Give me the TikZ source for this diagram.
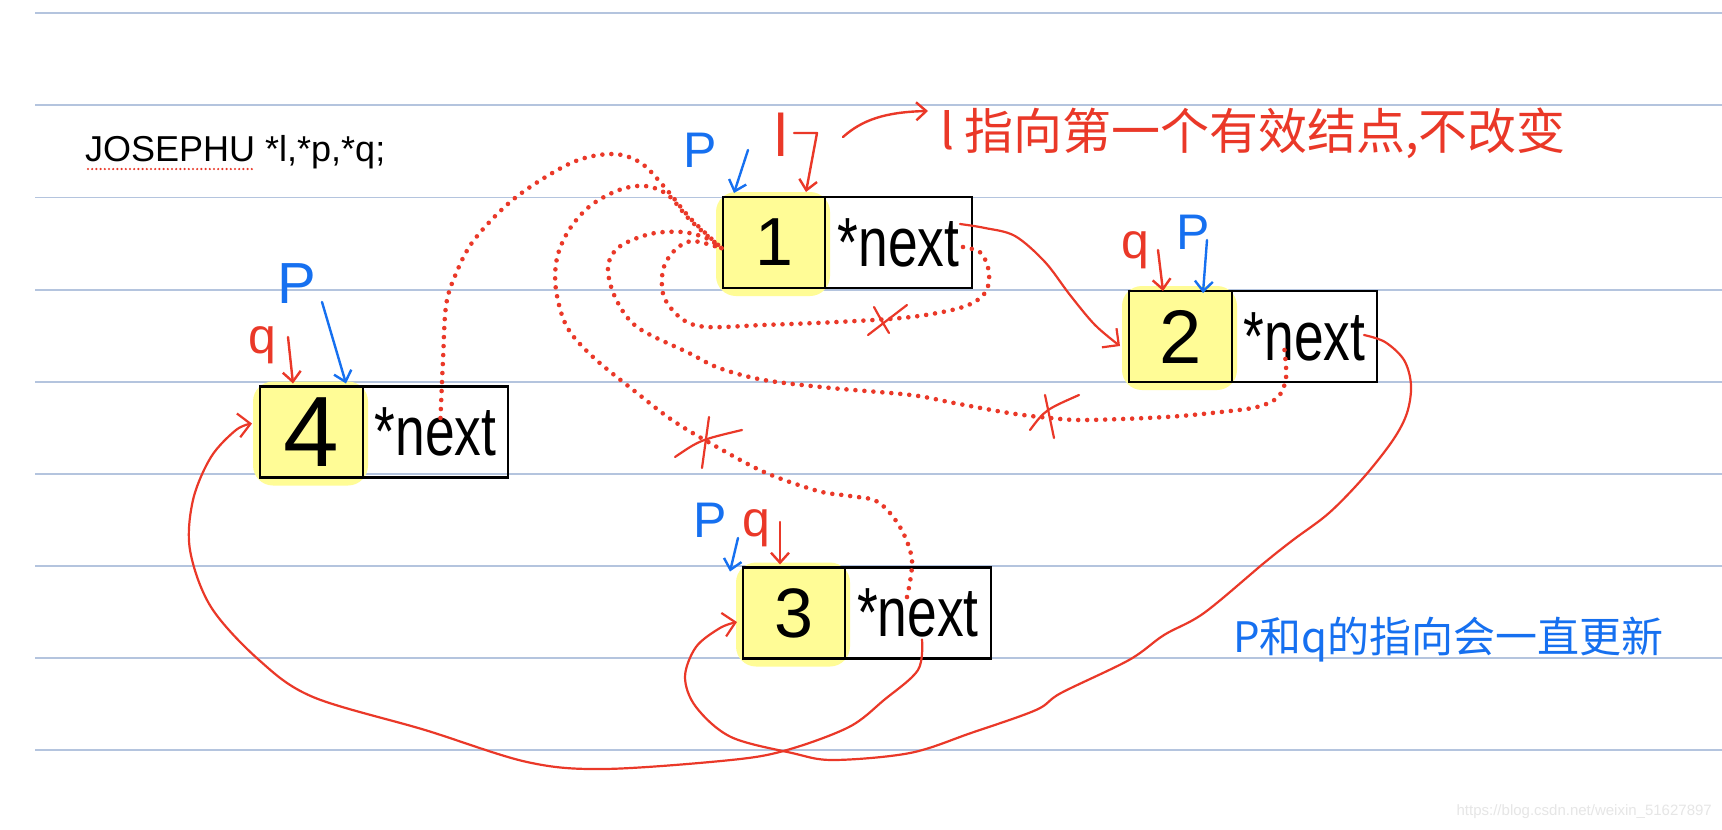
\documentclass[tikz,border=0pt]{standalone}
\usepackage{fontspec}
\setmainfont{Liberation Sans}
\newfontfamily\cjk{Noto Sans CJK SC}
\usepackage{graphicx}
\usetikzlibrary{arrows.meta,calc}
\definecolor{rl}{RGB}{234,56,40}
\definecolor{bl}{RGB}{22,112,240}
\definecolor{rulec}{RGB}{180,196,222}
\definecolor{hl}{RGB}{255,252,150}
\definecolor{wm}{RGB}{230,230,230}
\pgfdeclarelayer{rules}
\pgfdeclarelayer{hlayer}
\pgfsetlayers{rules,hlayer,main}
\newcommand{\mydigit}[2]{{\fontsize{#1}{#1}\selectfont #2}}
\newcommand{\nxt}{\scalebox{0.92}[1.2]{\fontsize{58}{60}\selectfont *next}}
\begin{document}
\begin{tikzpicture}[x=1pt,y=-1pt,
  rulel/.style={draw=rulec,line width=1.8pt},
  cell/.style={draw=black,line width=2.4pt,minimum height=91pt,inner sep=0pt,outer sep=0pt,anchor=north west},
  hlbox/.style={fill=hl,rounded corners=20pt},
  link/.style={draw=rl,line width=2.2pt,line cap=round,line join=round,-{Straight Barb[length=12pt,width=24pt]}},
  dots/.style={draw=rl,line width=4.6pt,line cap=round,dash pattern=on 0pt off 9pt},
  smalldots/.style={draw=rl,line width=2.4pt,line cap=round,dash pattern=on 0pt off 4.2pt},
  xmark/.style={draw=rl,line width=2.2pt,line cap=round},
  bptr/.style={draw=bl,line width=2.4pt,line cap=round,line join=round,-{Straight Barb[length=10pt,width=18pt]}},
  rptr/.style={draw=rl,line width=2.4pt,line cap=round,line join=round,-{Straight Barb[length=10pt,width=18pt]}},
  blab/.style={text=bl,inner sep=0pt,font=\fontsize{50}{50}\selectfont},
  rlab/.style={text=rl,inner sep=0pt,font=\fontsize{50}{50}\selectfont},
]
\useasboundingbox (0,0) rectangle (1722,830);

% ruled paper
\begin{pgfonlayer}{rules}
\fill[white] (0,0) rectangle (1722,830);
\foreach \yy in {13,105,197.5,290,382,474,566,658,750}
  \draw[rulel] (35,\yy) -- (1722,\yy);
\end{pgfonlayer}

% nodes (cells)
\node[cell,minimum width=102pt] (b1v) at (723,197) {\mydigit{68}{1}};
\node[cell,minimum width=147pt] (b1n) at (b1v.north east) {\nxt};
\node[cell,minimum width=103pt] (b2v) at (1129,291) {\mydigit{76}{2}};
\node[cell,minimum width=145pt] (b2n) at (b2v.north east) {\nxt};
\node[cell,minimum width=103pt] (b4v) at (260,386.5) {\mydigit{100}{4}};
\node[cell,minimum width=145pt] (b4n) at (b4v.north east) {\nxt};
\node[cell,minimum width=102pt] (b3v) at (743,567.5) {\mydigit{70}{3}};
\node[cell,minimum width=146pt] (b3n) at (b3v.north east) {\nxt};

% highlighter
\begin{pgfonlayer}{hlayer}
\foreach \c in {b1v,b2v,b3v,b4v}
  \fill[hlbox] ([shift={(-7,-5)}]\c.north west) rectangle ([shift={(5,8)}]\c.south east);
\end{pgfonlayer}

% texts
\node[anchor=west,inner sep=0pt,font=\fontsize{36}{38}\selectfont] (decl) at (85,152) {JOSEPHU *l,*p,*q;};
\draw[smalldots] (88,169) -- (255,169);
\node[anchor=west,inner sep=0pt,text=rl,font=\cjk\fontsize{49}{52}\selectfont] (note) at (940,133) {l\hspace{10pt}指向第一个有效结点,不改变};
\node[anchor=west,inner sep=0pt,text=bl,font=\cjk\fontsize{42}{44}\selectfont] (note2) at (1233,640) {P和q的指向会一直更新};
\node[anchor=east,inner sep=0pt,text=wm,font=\fontsize{15}{16}\selectfont] (wmk) at (1712,812) {https://blog.csdn.net/weixin\_51627897};

% pointer labels
\node[blab] (p1) at (700,150) {P};
\node[rlab,font=\fontsize{60}{60}\selectfont] (l1) at (781,135) {l};
\node[blab] (p2) at (1193,232) {P};
\node[rlab] (q2) at (1135,250) {q};
\node[blab,font=\fontsize{58}{58}\selectfont] (p4) at (297,284) {P};
\node[rlab] (q4) at (262,345) {q};
\node[blab] (p3) at (710,520) {P};
\node[rlab] (q3) at (756,528) {q};

% pointer arrows
\coordinate (p1a) at (748,150);
\draw[bptr] (p1a) -- ([shift={(11,-4)}]b1v.north west);
\coordinate (l1a) at (794,133);
\coordinate (l1b) at (817,133);
\draw[rptr] (l1a) -- (l1b) -- ([shift={(83,-5)}]b1v.north west);
\coordinate (arA) at (843,137);
\draw[rptr] (arA) .. controls (862,120) and (885,112) .. ([shift={(-12,-22)}]note.west);
\coordinate (q2a) at (1158,250);
\draw[rptr] (q2a) -- ([shift={(34,0)}]b2v.north west);
\coordinate (p2a) at (1207,240);
\draw[bptr] (p2a) -- ([shift={(74,2)}]b2v.north west);
\coordinate (q4a) at (288,337);
\draw[rptr] (q4a) -- ([shift={(33,-3)}]b4v.north west);
\coordinate (p4a) at (322,302);
\draw[bptr] (p4a) -- ([shift={(86,-3)}]b4v.north west);
\coordinate (p3a) at (738,538);
\draw[bptr] (p3a) -- ([shift={(-13,4)}]b3v.north west);
\coordinate (q3a) at (780,522);
\draw[rptr] (q3a) -- ([shift={(37,-3)}]b3v.north west);

% solid red links
\coordinate (c1s) at ([shift={(-12,-18.5)}]b1n.east);
\coordinate (c1e) at ([shift={(-9,9.5)}]b2v.west);
\draw[link] plot[smooth,tension=0.55] coordinates {(c1s) (985,228) (1015,236) (1045,262) (1070,295) (1095,325) (c1e)};

\coordinate (c2s) at ([shift={(-13,-1.5)}]b2n.east);
\coordinate (c2e) at ([shift={(-6,9)}]b3v.west);
\draw[link] plot[smooth,tension=0.55] coordinates {(c2s) (1385,342) (1404,360) (1411,385) (1407,413) (1393,440) (1364,477) (1329,513) (1293,540) (1264,563) (1204,613) (1164,635) (1129,660) (1061,693) (1036,710) (971,733) (910,753) (833,760) (792,753) (731,737) (696,707) (685,677) (696,647) (720,628) (c2e)};

\coordinate (c3s) at ([shift={(4,-19)}]b3n.south);
\coordinate (c3e) at ([shift={(-8,-8.5)}]b4v.west);
\draw[link] plot[smooth,tension=0.55] coordinates {(c3s) (918,670) (884,700) (849,727) (787,750) (731,760) (604,769) (527,762) (425,730) (313,697) (259,660) (211,607) (190,550) (193,500) (211,457) (236,430) (c3e)};

% dotted old links
\coordinate (in1) at ([shift={(-1,6)}]b1v.west);
\coordinate (dAs) at ([shift={(5,-14)}]b4n.center);
\draw[dots] plot[smooth,tension=0.55] coordinates {(dAs) (443,360) (446,306) (455,276) (474,240) (515,198) (571,163) (612,154) (641,163) (667,190) (690,218) (in1)};
\coordinate (dBs) at ([shift={(-11,-16)}]b3n.center);
\draw[dots] plot[smooth,tension=0.55] coordinates {(dBs) (912,560) (900,527) (878,502) (850,496) (818,491) (764,472) (710,443) (672,420) (637,393) (593,357) (567,327) (556,290) (557,258) (569,230) (590,206) (619,190) (645,186) (668,195) (690,220) (in1)};
\coordinate (dCs) at ([shift={(-20,13.5)}]b2n.center);
\draw[dots] plot[smooth,tension=0.55] coordinates {(dCs) (1286,378) (1278,397) (1257,407) (1221,412) (1166,417) (1086,420) (1050,418) (1009,413) (954,403) (911,395) (831,388) (764,380) (719,368) (689,353) (637,327) (615,297) (608,267) (619,247) (650,234) (682,232) (706,238) (in1)};
\coordinate (dDs) at ([shift={(-9,4.5)}]b1n.east);
\draw[dots] plot[smooth,tension=0.55] coordinates {(dDs) (981,253) (989,273) (985,293) (963,307) (911,317) (837,322) (763,325) (707,327) (682,319) (664,297) (663,270) (674,251) (692,241) (in1)};

% crosses on the old links
\draw[xmark] (868,335) -- (907,305);
\draw[xmark] (874,307) .. controls (880,318) .. (889,333);
\draw[xmark] (1030,430) .. controls (1045,410) .. (1079,395);
\draw[xmark] (1045,395) -- (1054,438);
\draw[xmark] (675,457) .. controls (700,440) .. (742,430);
\draw[xmark] (709,417) -- (702,468);
\end{tikzpicture}
\end{document}
